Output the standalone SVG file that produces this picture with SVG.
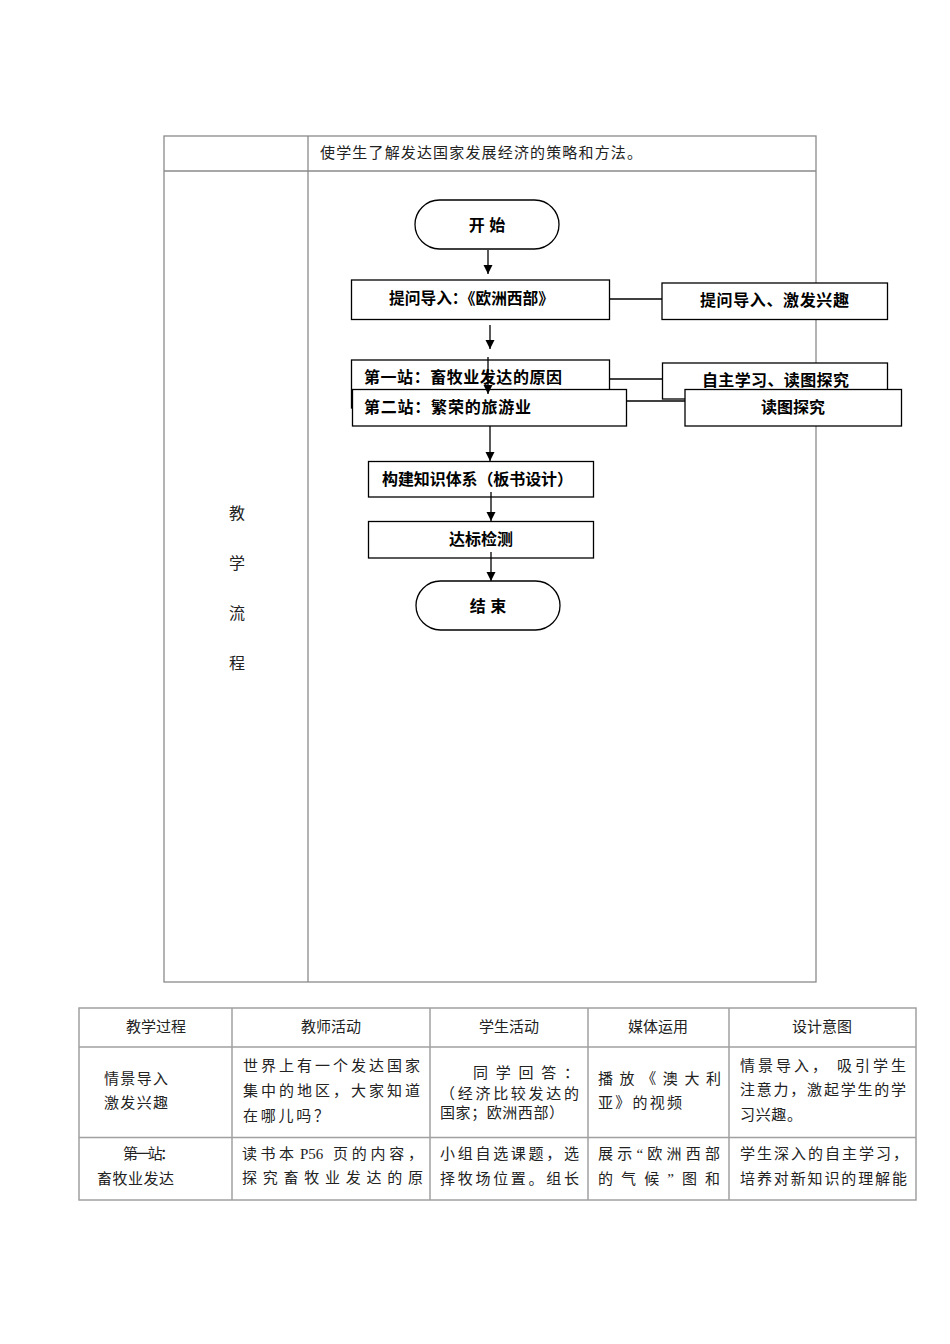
<svg xmlns="http://www.w3.org/2000/svg" width="950" height="1344" viewBox="0 0 950 1344">
<style>
.tl{stroke:#8a8a8a;stroke-width:1.3;fill:none}
.tl2{stroke:#a0a0a0;stroke-width:1.5;fill:none}
.bx{fill:#fff;stroke:#000;stroke-width:1.3}
.fc{font-family:"Liberation Sans","Noto Sans CJK SC",sans-serif;font-size:16px;font-weight:bold;fill:#000}
.tx{font-family:"Liberation Serif","Noto Sans CJK SC",serif;font-size:15px;fill:#222}
.cn{stroke:#000;stroke-width:1.3;fill:none}
</style>
<defs>
<marker id="ah" markerUnits="userSpaceOnUse" markerWidth="10" markerHeight="10" refX="9" refY="5" orient="auto" viewBox="0 0 10 10">
<path d="M0,0.5 L9,5 L0,9.5 Z" fill="#000"/>
</marker>
</defs>
<rect width="950" height="1344" fill="#fff"/>

<g id="upper-table">
<rect class="tl" x="164" y="136" width="652" height="846"/>
<line class="tl" x1="164" y1="171" x2="816" y2="171"/>
<line class="tl" x1="308" y1="136" x2="308" y2="982"/>
<text class="tx" x="320" y="158" textLength="322" lengthAdjust="spacing">使学生了解发达国家发展经济的策略和方法。</text>
<g class="tx" text-anchor="middle" style="font-size:16px">
<text x="237" y="519">教</text>
<text x="237" y="569">学</text>
<text x="237" y="619">流</text>
<text x="237" y="669">程</text>
</g>
</g>

<g id="start"><rect class="bx" x="415" y="200" width="144" height="49" rx="24.5"/><text class="fc" x="487" y="231" text-anchor="middle">开 始</text></g>
<g id="n1"><rect class="bx" x="351.5" y="280" width="258" height="39.5"/><text class="fc" x="389" y="304" textLength="165" lengthAdjust="spacingAndGlyphs">提问导入：《欧洲西部》</text></g>
<g id="r1"><rect class="bx" x="662" y="283" width="225.5" height="36.5"/><text class="fc" x="700" y="306" textLength="149" lengthAdjust="spacing">提问导入、激发兴趣</text></g>
<g id="n2"><rect class="bx" x="351.5" y="360" width="258" height="48"/><text class="fc" x="364" y="383" textLength="198" lengthAdjust="spacing">第一站：畜牧业发达的原因</text></g>
<g id="r2"><rect class="bx" x="662.5" y="363" width="225" height="36"/><text class="fc" x="702" y="386" textLength="147" lengthAdjust="spacing">自主学习、读图探究</text></g>
<g id="n3"><rect class="bx" x="352.5" y="389.5" width="274" height="36.5"/><text class="fc" x="364" y="413" textLength="167" lengthAdjust="spacing">第二站：繁荣的旅游业</text></g>
<g id="r3"><rect class="bx" x="685" y="389.5" width="216.5" height="36.5"/><text class="fc" x="793" y="413" text-anchor="middle">读图探究</text></g>
<g id="n4"><rect class="bx" x="368.5" y="461.5" width="225" height="35.5"/><text class="fc" x="382" y="485" textLength="191" lengthAdjust="spacing">构建知识体系（板书设计）</text></g>
<g id="n5"><rect class="bx" x="368.5" y="521.5" width="225" height="36.5"/><text class="fc" x="481" y="545" text-anchor="middle">达标检测</text></g>
<g id="end"><rect class="bx" x="416" y="581" width="144" height="49" rx="24.5"/><text class="fc" x="488" y="612" text-anchor="middle">结 束</text></g>

<g id="connectors">
<line class="cn" x1="488" y1="250" x2="488" y2="274" marker-end="url(#ah)"/>
<line class="cn" x1="490" y1="325" x2="490" y2="349" marker-end="url(#ah)"/>
<line class="cn" x1="488" y1="357" x2="488" y2="394" marker-end="url(#ah)"/>
<line class="cn" x1="490" y1="426" x2="490" y2="461" marker-end="url(#ah)"/>
<line class="cn" x1="491" y1="492" x2="491" y2="521" marker-end="url(#ah)"/>
<line class="cn" x1="491" y1="552" x2="491" y2="581" marker-end="url(#ah)"/>
<line class="cn" x1="609.5" y1="299" x2="662" y2="299"/>
<line class="cn" x1="609.5" y1="379" x2="662.5" y2="379"/>
<line class="cn" x1="626.5" y1="401" x2="685" y2="401"/>
</g>

<g id="lower-table">
<rect class="tl2" x="79" y="1008" width="837" height="192"/>
<line class="tl2" x1="79" y1="1047" x2="916" y2="1047"/>
<line class="tl2" x1="79" y1="1137.5" x2="916" y2="1137.5"/>
<line class="tl2" x1="232" y1="1008" x2="232" y2="1200"/>
<line class="tl2" x1="430" y1="1008" x2="430" y2="1200"/>
<line class="tl2" x1="588" y1="1008" x2="588" y2="1200"/>
<line class="tl2" x1="729" y1="1008" x2="729" y2="1200"/>
<g class="tx" text-anchor="middle">
<text x="156" y="1032">教学过程</text>
<text x="331" y="1032">教师活动</text>
<text x="509" y="1032">学生活动</text>
<text x="658" y="1032">媒体运用</text>
<text x="822" y="1032">设计意图</text>
</g>
<g class="tx">
<text x="104" y="1084" textLength="64" lengthAdjust="spacing">情景导入</text>
<text x="104" y="1108" textLength="64" lengthAdjust="spacing">激发兴趣</text>
<text x="243" y="1071" textLength="177" lengthAdjust="spacing">世界上有一个发达国家</text>
<text x="243" y="1096" textLength="177" lengthAdjust="spacing">集中的地区，大家知道</text>
<text x="243" y="1121" textLength="86" lengthAdjust="spacing">在哪儿吗？</text>
<text x="473" y="1078" textLength="106" lengthAdjust="spacing">同学回答：</text>
<text x="440" y="1099" textLength="139" lengthAdjust="spacing">（经济比较发达的</text>
<text x="440" y="1118" textLength="124" lengthAdjust="spacing">国家；欧洲西部）</text>
<text x="598" y="1084" textLength="123" lengthAdjust="spacing">播放《澳大利</text>
<text x="598" y="1108" textLength="84" lengthAdjust="spacing">亚》的视频</text>
<text x="740" y="1071" textLength="166" lengthAdjust="spacing">情景导入， 吸引学生</text>
<text x="740" y="1095" textLength="166" lengthAdjust="spacing">注意力，激起学生的学</text>
<text x="740" y="1120" textLength="62" lengthAdjust="spacing">习兴趣。</text>
<text x="123" y="1159" textLength="52" lengthAdjust="spacing">第一站：</text>
<text x="97" y="1184" textLength="77" lengthAdjust="spacing">畜牧业发达</text>
<text x="242" y="1159"><tspan textLength="52" lengthAdjust="spacing">读书本</tspan><tspan x="300">P56</tspan><tspan x="333" textLength="90" lengthAdjust="spacing">页的内容，</tspan></text>
<text x="242" y="1183" textLength="181" lengthAdjust="spacing">探究畜牧业发达的原</text>
<text x="440" y="1159" textLength="139" lengthAdjust="spacing">小组自选课题，选</text>
<text x="440" y="1184" textLength="139" lengthAdjust="spacing">择牧场位置。组长</text>
<text x="598" y="1159" textLength="122" lengthAdjust="spacing">展示“欧洲西部</text>
<text x="598" y="1184" textLength="122" lengthAdjust="spacing">的气候”图和</text>
<text x="740" y="1159" textLength="168" lengthAdjust="spacing">学生深入的自主学习，</text>
<text x="740" y="1184" textLength="167" lengthAdjust="spacing">培养对新知识的理解能</text>
</g>
</g>
</svg>
